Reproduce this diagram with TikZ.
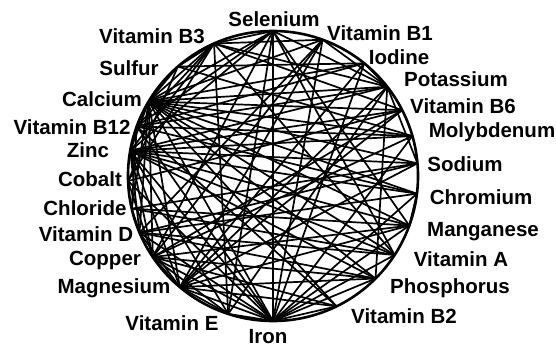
\documentclass[tikz,border=0pt]{standalone}
\usepackage{fontspec}
\setmainfont{Liberation Sans}
\usepackage{tikz}
\usetikzlibrary{calc}

\begin{document}
\begin{tikzpicture}[x=1pt,y=1pt,
  chord/.style={line width=1.7pt},
  rim/.style={line width=2.6pt},
  lbl/.style={font=\bfseries\fontsize{20.5}{22}\selectfont,inner sep=0pt}]
  \useasboundingbox (0,0) rectangle (556,347);
  \coordinate (c) at (273,171);
  % points on the wheel
  \foreach \n/\a in {se/90,b1/70,io/51,k/38,bsix/27,mo/16,na/5,cr/-7,mn/-20,va/-33,
      p/-45,btwo/-64,fe/-90,ve/-108,mg/-130,cu/-146,vd/-157,cl/-167,co/-178,
      zn/170,btwelve/160,ca/149,s/131,bthree/114}
    \coordinate (\n) at ($(c)+(\a:145)$);
  % interactions
  \foreach \a/\b in {se/fe,se/ca,se/btwelve,se/zn,se/cu,se/va,se/ve,se/mn,se/k,se/bthree,
      b1/ca,b1/mg,b1/fe,b1/k,b1/bthree,b1/cu,b1/vd,
      io/ca,io/fe,io/k,io/s,io/mg,io/btwelve,
      k/ca,k/na,k/mg,k/btwelve,k/zn,k/p,k/bthree,
      bsix/ca,bsix/mg,bsix/zn,bsix/co,bsix/bthree,bsix/cu,
      mo/cu,mo/s,mo/fe,mo/ca,mo/zn,mo/btwelve,
      na/ca,na/cl,na/mg,na/vd,na/zn,
      cr/fe,cr/zn,cr/ca,cr/btwelve,cr/vd,cr/mn,
      mn/fe,mn/ca,mn/mg,mn/cu,mn/zn,mn/cl,
      va/fe,va/zn,va/vd,va/ca,va/bthree,va/cl,
      p/ca,p/mg,p/fe,p/zn,p/vd,p/cu,
      btwo/fe,btwo/ca,btwo/cu,btwo/mg,btwo/btwelve,
      fe/ve,fe/cu,fe/zn,fe/ca,fe/mg,fe/co,fe/btwelve,fe/vd,
      ve/mg,ve/cu,ve/zn,ve/bthree,ve/k,
      mg/cu,mg/vd,mg/zn,mg/ca,
      cu/zn,cu/ca,cu/co,
      vd/ca,vd/zn,vd/cl,
      cl/ca,cl/btwelve,co/bthree,co/s,
      zn/ca,zn/bthree,zn/btwelve,
      btwelve/ca,btwelve/bthree,ca/s,ca/bthree,s/bthree}
    \draw[chord] (\a)--(\b);
  \draw[rim] (c) circle (145);
  % names
  \node[lbl] (lse) at (274,328) {Selenium};
  \node[lbl] (lb1) at (380,314) {Vitamin B1};
  \node[lbl] (lio) at (399,290) {Iodine};
  \node[lbl] (lk) at (456,268) {Potassium};
  \node[lbl] (lbsix) at (463,241) {Vitamin B6};
  \node[lbl] (lmo) at (492,215) {Molybdenum};
  \node[lbl] (lna) at (465,183) {Sodium};
  \node[lbl] (lcr) at (481,150) {Chromium};
  \node[lbl] (lmn) at (483,115) {Manganese};
  \node[lbl] (lva) at (461,88) {Vitamin A};
  \node[lbl] (lp) at (450,59) {Phosphorus};
  \node[lbl] (lbtwo) at (404,31) {Vitamin B2};
  \node[lbl] (lfe) at (268,10) {Iron};
  \node[lbl] (lve) at (172,24) {Vitamin E};
  \node[lbl] (lmg) at (114,59) {Magnesium};
  \node[lbl] (lcu) at (105,87) {Copper};
  \node[lbl] (lvd) at (86,113) {Vitamin D};
  \node[lbl] (lcl) at (85,139) {Chloride};
  \node[lbl] (lco) at (90,168) {Cobalt};
  \node[lbl] (lzn) at (88,197) {Zinc};
  \node[lbl] (lbtwelve) at (72,220) {Vitamin B12};
  \node[lbl] (lca) at (102,248) {Calcium};
  \node[lbl] (ls) at (129,279) {Sulfur};
  \node[lbl] (lbthree) at (152,311) {Vitamin B3};
\end{tikzpicture}
\end{document}
